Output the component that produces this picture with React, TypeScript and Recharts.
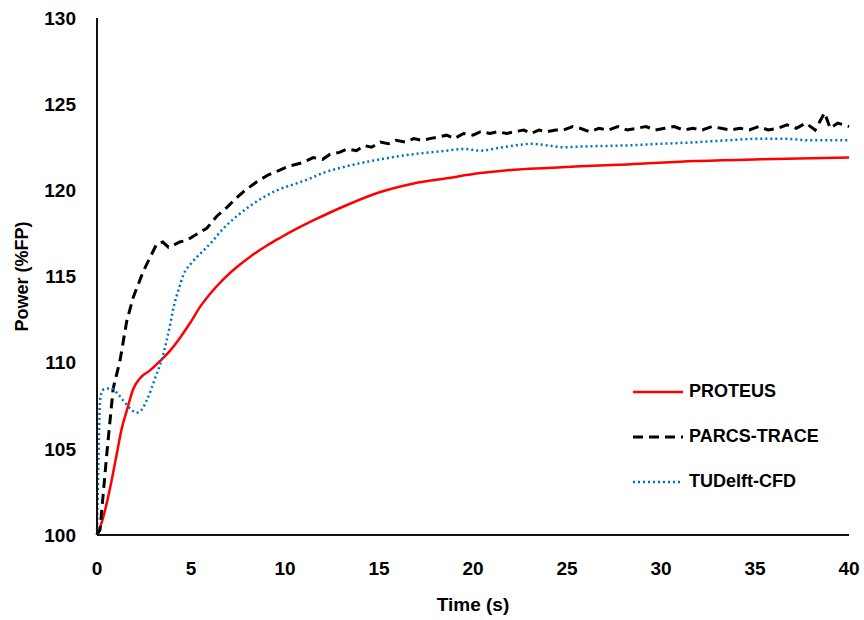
import React from "react";
import { LineChart, Line, XAxis, YAxis } from "recharts";

// time (s) / power (%FP)
const proteusTime = [0, 0.3, 0.69, 1.05, 1.3, 1.58, 1.94, 2.29, 2.82, 3.36, 3.89, 4.42, 4.95, 5.49, 6.02, 6.73, 7.44, 8.15, 9.04, 9.75, 10.5, 11.5, 13.3, 15.07, 16.85, 18.6, 20.4, 22.2, 23.95, 25.7, 28.2, 31.8, 35.3, 40];
const proteusPower = [100, 100.9, 102.7, 104.7, 106.1, 107.2, 108.5, 109.1, 109.55, 110.1, 110.7, 111.45, 112.3, 113.25, 114.0, 114.85, 115.55, 116.15, 116.8, 117.25, 117.7, 118.25, 119.15, 119.9, 120.4, 120.7, 121.0, 121.2, 121.3, 121.4, 121.5, 121.7, 121.8, 121.9];

const parcsTime = [0, 0.16, 0.52, 0.86, 1.22, 1.58, 1.93, 2.46, 2.82, 3.18, 3.5, 3.8, 4.05, 4.4, 4.78, 5.3, 5.84, 6.37, 6.9, 7.35, 7.88, 8.5, 9.12, 9.57, 10.2, 10.9, 11.5, 12.0, 12.4, 12.9, 13.3, 13.8, 14.2, 14.6, 15.07, 15.5, 15.9, 16.4, 16.85, 17.3, 17.7, 18.2, 18.6, 19.0, 19.5, 20.0, 20.4, 20.9, 21.3, 21.8, 22.2, 22.7, 23.1, 23.5, 23.95, 24.4, 24.8, 25.3, 25.7, 26.2, 26.7, 27.2, 27.7, 28.2, 28.7, 29.2, 29.7, 30.2, 30.7, 31.2, 31.7, 32.2, 32.7, 33.2, 33.7, 34.2, 34.7, 35.2, 35.7, 36.2, 36.7, 37.2, 37.7, 38.2, 38.7, 39.0, 39.4, 40];
const parcsPower = [100, 100.3, 104.7, 108.5, 110.1, 112.4, 113.8, 115.3, 116.1, 116.9, 117.0, 116.7, 116.8, 117.0, 117.1, 117.45, 117.8, 118.5, 119.0, 119.5, 120.0, 120.5, 120.9, 121.1, 121.4, 121.6, 121.9, 121.8, 122.1, 122.2, 122.4, 122.3, 122.6, 122.5, 122.8, 122.7, 122.9, 122.8, 123.0, 122.9, 123.0, 123.1, 123.2, 123.0, 123.3, 123.2, 123.4, 123.3, 123.4, 123.3, 123.4, 123.5, 123.3, 123.5, 123.4, 123.5, 123.5, 123.7, 123.6, 123.4, 123.6, 123.5, 123.7, 123.5, 123.6, 123.7, 123.5, 123.6, 123.7, 123.5, 123.6, 123.5, 123.7, 123.6, 123.5, 123.6, 123.5, 123.7, 123.5, 123.6, 123.8, 123.6, 123.9, 123.5, 124.5, 123.6, 123.9, 123.7];

const tudelftTime = [0, 0.03, 0.1, 0.16, 0.3, 0.5, 0.78, 1.1, 1.4, 1.8, 2.1, 2.4, 2.64, 2.9, 3.09, 3.45, 3.71, 3.89, 4.07, 4.33, 4.6, 5.04, 5.66, 6.1, 6.73, 7.44, 8.15, 8.86, 9.57, 10.46, 11.25, 12.0, 13.3, 15.07, 16.85, 18.6, 19.5, 20.4, 21.3, 22.2, 23.1, 24.0, 24.8, 26, 28, 30, 32, 33.5, 35.3, 36.5, 38, 40];
const tudelftPower = [100, 101.8, 105.5, 107.8, 108.4, 108.5, 108.5, 108.2, 107.8, 107.3, 107.1, 107.3, 107.8, 108.5, 109.1, 110.2, 111.3, 112.2, 113.2, 114.2, 115.1, 115.8, 116.5, 117.0, 117.8, 118.5, 119.1, 119.6, 120.0, 120.35, 120.65, 121.0, 121.4, 121.8, 122.1, 122.3, 122.4, 122.3, 122.45, 122.6, 122.7, 122.6, 122.5, 122.55, 122.6, 122.7, 122.8, 122.9, 123.0, 123.0, 122.9, 122.9];

const xTicks = [0, 5, 10, 15, 20, 25, 30, 35, 40];
const yTicks = [100, 105, 110, 115, 120, 125, 130];

const series = [
  { name: "PROTEUS", color: "#FF0000", dash: undefined, width: 2.5, time: proteusTime, power: proteusPower, curve: "monotone" },
  { name: "PARCS-TRACE", color: "#000000", dash: "10 6", width: 3, time: parcsTime, power: parcsPower, curve: "linear" },
  { name: "TUDelft-CFD", color: "#0070C0", dash: "2 3", width: 2.5, time: tudelftTime, power: tudelftPower, curve: "monotone" },
];

const FONT = "'Liberation Sans', Arial, sans-serif";
const tickStyle = { fill: "#000", fontSize: 19, fontWeight: "bold", fontFamily: FONT };

function YTitle({ viewBox }: any) {
  const x = viewBox.x + 22;
  const y = viewBox.y + viewBox.height / 2;
  return (
    <text x={x} y={y} transform={`rotate(-90, ${x}, ${y})`} textAnchor="middle" dominantBaseline="central"
      style={{ fontSize: 18, fontWeight: "bold", fontFamily: FONT, fill: "#000" }}>
      Power (%FP)
    </text>
  );
}

function XTitle({ viewBox }: any) {
  return (
    <text x={viewBox.x + viewBox.width / 2} y={viewBox.y + 69} textAnchor="middle" dominantBaseline="central"
      style={{ fontSize: 19, fontWeight: "bold", fontFamily: FONT, fill: "#000" }}>
      Time (s)
    </text>
  );
}

export default function App() {
  return (
    <div style={{ position: "absolute", left: 0, top: 0, width: 864, height: 620, background: "#fff" }}>
      <LineChart width={864} height={620} margin={{ top: 18, right: 15, bottom: 0, left: 0 }}>
        <XAxis
          xAxisId="main"
          type="number"
          dataKey="t"
          domain={[0, 40]}
          ticks={xTicks}
          tickLine={false}
          tickSize={0}
          tickMargin={27}
          height={85}
          axisLine={{ stroke: "#111", strokeWidth: 2 }}
          tick={tickStyle}
          label={<XTitle />}
        />
        <XAxis xAxisId="top" orientation="top" type="number" domain={[0, 40]} height={0} tick={false} tickLine={false} axisLine={{ stroke: "#111", strokeWidth: 2 }} />
        <YAxis
          yAxisId="main"
          type="number"
          domain={[100, 130]}
          ticks={yTicks}
          tickLine={false}
          tickSize={0}
          tickMargin={21}
          width={97}
          axisLine={{ stroke: "#111", strokeWidth: 2 }}
          tick={tickStyle}
          label={<YTitle />}
        />
        <YAxis yAxisId="right" orientation="right" type="number" domain={[100, 130]} width={0} tick={false} tickLine={false} axisLine={{ stroke: "#111", strokeWidth: 2 }} />
        {series.map((s) => (
          <Line
            key={s.name}
            xAxisId="main"
            yAxisId="main"
            name={s.name}
            data={s.time.map((t, i) => ({ t, p: s.power[i] }))}
            dataKey="p"
            type={s.curve as any}
            stroke={s.color}
            strokeWidth={s.width}
            strokeDasharray={s.dash}
            dot={false}
            activeDot={false}
            isAnimationActive={false}
          />
        ))}
      </LineChart>
      <div style={{ position: "absolute", left: 630, top: 369, fontFamily: FONT }}>
        {series.map((s) => (
          <div key={s.name} style={{ display: "flex", alignItems: "center", height: 45 }}>
            <svg width={58} height={10}>
              <line x1={3} x2={53} y1={5} y2={5} stroke={s.color} strokeWidth={s.width} strokeDasharray={s.dash} />
            </svg>
            <span style={{ fontSize: 18, fontWeight: "bold", color: "#000", marginLeft: 1 }}>{s.name}</span>
          </div>
        ))}
      </div>
    </div>
  );
}
